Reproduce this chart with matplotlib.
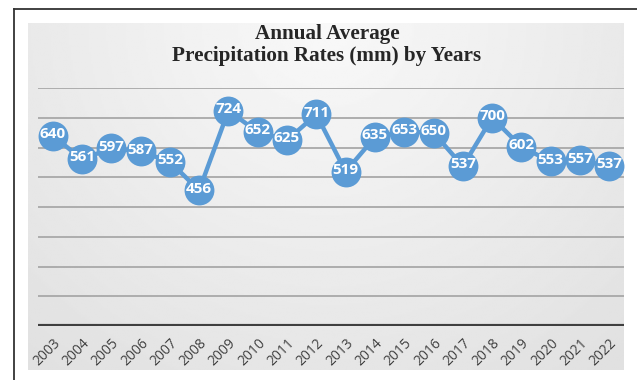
import numpy as np
import matplotlib
matplotlib.use("Agg")
import matplotlib.pyplot as plt
from matplotlib.lines import Line2D

years = [str(y) for y in range(2003, 2023)]
rates = [640, 561, 597, 587, 552, 456, 724, 652, 625, 711,
         519, 635, 653, 650, 537, 700, 602, 553, 557, 537]

W, H = 637, 380
fig = plt.figure(figsize=(W / 100, H / 100), dpi=100)
fig.patch.set_facecolor("white")

# gray gradient panel behind the chart
bg = fig.add_axes([28 / W, 1 - 370 / H, (624 - 28) / W, (370 - 23) / H])
gx, gy = np.meshgrid(np.linspace(-1, 1, 300), np.linspace(0, 1, 200))
dist = np.sqrt((gx * 0.9) ** 2 + (gy * 1.1) ** 2)
shade = 0.975 - 0.095 * np.clip(dist, 0, 1.4) / 1.4
bg.imshow(shade, cmap="gray", vmin=0, vmax=1, aspect="auto",
          extent=[0, 1, 0, 1], origin="upper")
bg.axis("off")

ax = fig.add_axes([38 / W, 1 - 326 / H, (624 - 38) / W, (326 - 88) / H])
ax.patch.set_alpha(0)
x = np.arange(len(years))

ax.set_ylim(0, 800)
ax.set_xlim(-0.5, len(years) - 0.5)
for v in range(100, 801, 100):
    ax.axhline(v, color="#a8a8a8", lw=1.3, zorder=1)
ax.axhline(0, color="#3f3f3f", lw=3, zorder=2)

ax.plot(x, rates, color="#5b9bd5", lw=3.2, marker="o", markersize=21.5,
        markeredgewidth=0, zorder=3, clip_on=False)
for xi, v in zip(x, rates):
    ax.text(xi, v + 6, str(v), ha="center", va="center", color="white",
            fontsize=11, fontweight="bold", family="Open Sans", zorder=4)

ax.set_xticks(x)
ax.set_xticklabels(years, rotation=45, ha="right", rotation_mode="anchor",
                   fontsize=10, color="#404040", family="Open Sans")
ax.tick_params(axis="x", length=0, pad=7)
ax.set_yticks([])
for s in ax.spines.values():
    s.set_visible(False)

fig.text(327 / W, 1 - 45 / H, "Annual Average\nPrecipitation Rates (mm) by Years",
         ha="center", va="center", fontsize=15.2, fontweight="bold",
         family="Liberation Serif", color="#262626", linespacing=1.2)

# outer frame lines
fig.add_artist(Line2D([14 / W, 14 / W], [0, 1 - 9 / H], transform=fig.transFigure,
                      color="#333333", lw=1.3))
fig.add_artist(Line2D([14 / W, 1], [1 - 9 / H, 1 - 9 / H], transform=fig.transFigure,
                      color="#333333", lw=1.3))

fig.savefig("out.png", dpi=100)
